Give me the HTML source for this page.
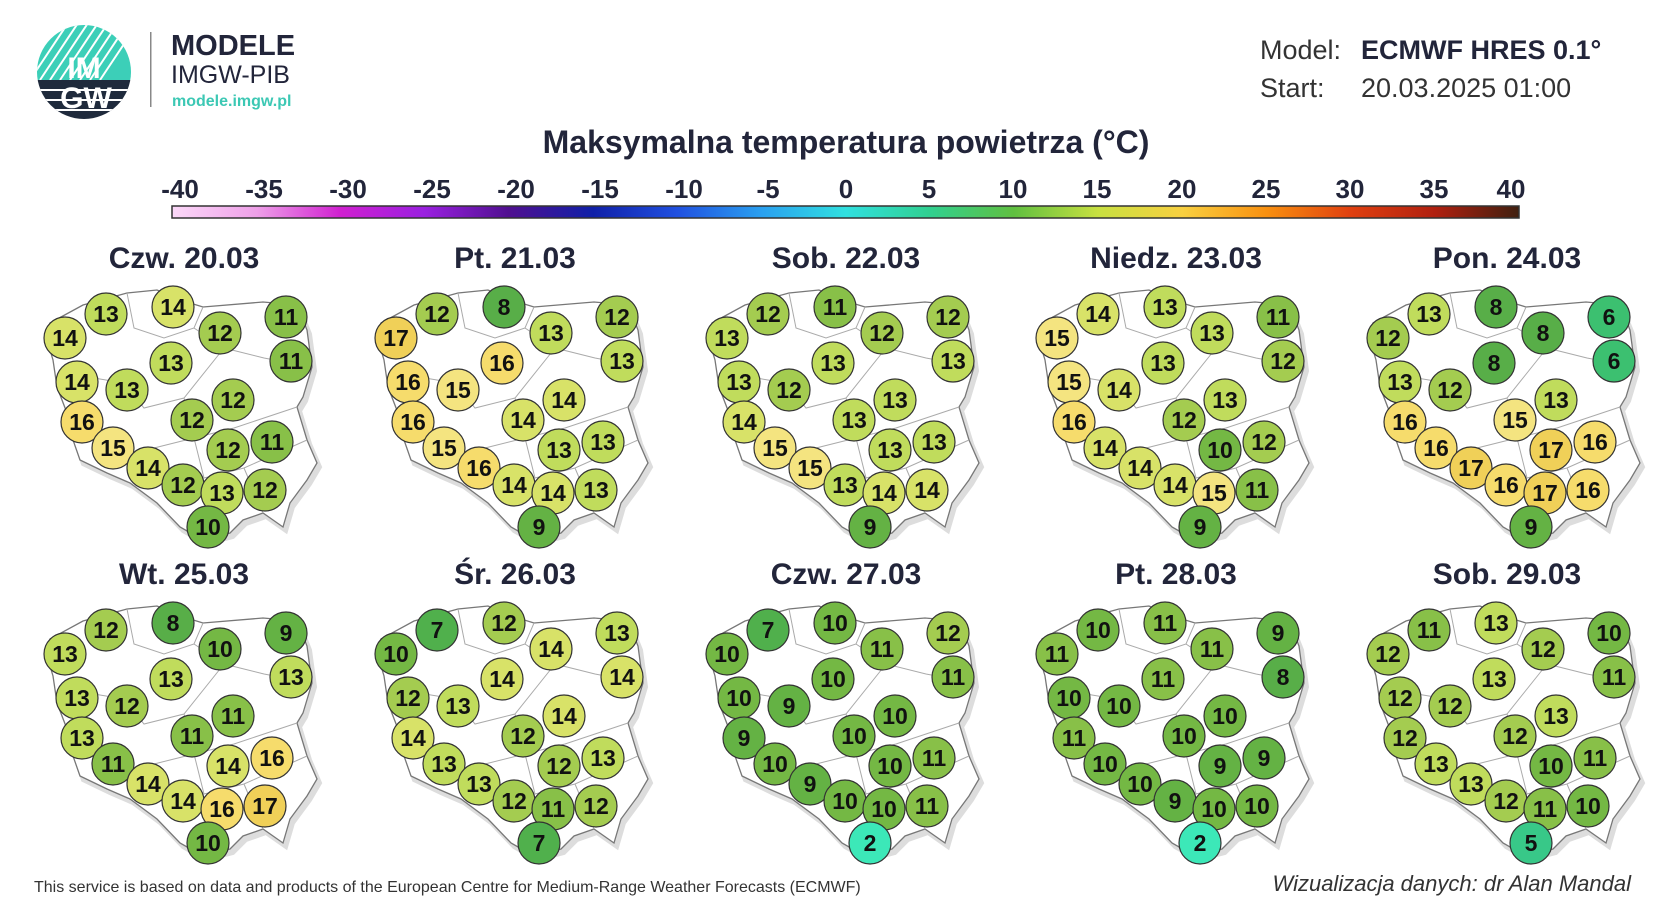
<!DOCTYPE html>
<html><head><meta charset="utf-8"><style>
html,body{margin:0;padding:0;background:#fff;}
svg{display:block;font-family:"Liberation Sans",sans-serif;}
.t{font-weight:bold;font-size:23px;text-anchor:middle;fill:#111;}
circle{stroke:#333;stroke-width:1.2;}
.v2{fill:#3ce8b8}.v5{fill:#38c888}.v6{fill:#3cc070}.v7{fill:#50b04c}.v8{fill:#58ae48}.v9{fill:#64b244}
.v10{fill:#74b844}.v11{fill:#88c048}.v12{fill:#a4cc50}.v13{fill:#c0dc5c}.v14{fill:#d8e268}.v15{fill:#f4e480}.v16{fill:#f6dc6c}.v17{fill:#f0d058}
.pt{font-weight:bold;font-size:30px;text-anchor:middle;fill:#22253a;}
.cb{font-weight:bold;font-size:26px;text-anchor:middle;fill:#22253a;}
</style></head><body>
<svg width="1680" height="900" viewBox="0 0 1680 900" xmlns="http://www.w3.org/2000/svg">
<defs>
<linearGradient id="cm" x1="0" x2="1" y1="0" y2="0">
<stop offset="0" stop-color="#fbd8f8"/><stop offset="0.0625" stop-color="#eea0e8"/><stop offset="0.125" stop-color="#d020d0"/>
<stop offset="0.1875" stop-color="#9a20e0"/><stop offset="0.25" stop-color="#501090"/><stop offset="0.3125" stop-color="#1020a8"/>
<stop offset="0.375" stop-color="#2050e0"/><stop offset="0.4375" stop-color="#2aa0f0"/><stop offset="0.5" stop-color="#30e0e0"/>
<stop offset="0.5625" stop-color="#30d090"/><stop offset="0.625" stop-color="#60c040"/><stop offset="0.6875" stop-color="#c8e040"/>
<stop offset="0.75" stop-color="#f8d040"/><stop offset="0.8125" stop-color="#f89010"/><stop offset="0.875" stop-color="#e04010"/>
<stop offset="0.9375" stop-color="#b02010"/><stop offset="1" stop-color="#402010"/>
</linearGradient>
<path id="pl" d="M-134,55 L-101,37 L-57,25 L-27,22 L6,35 L19,39 L79,34 L113,37 L123,62 L128,99 L119,129 L113,139 L123,172 L133,195 L123,212 L106,235 L99,259 L79,245 L59,252 L46,265 L19,272 L-4,259 L-27,235 L-54,215 L-77,205 L-104,192 L-111,172 L-117,145 L-127,119 L-131,92 L-137,72 Z"/>
<g id="map"><use href="#pl" transform="translate(3,4)" fill="#ddd" stroke="#ddd" stroke-width="4"/><use href="#pl" fill="#fff" stroke="#777" stroke-width="1.3"/>
<path d="M-57,25 L-50,60 L-20,70 L10,60 L19,39 M10,60 L40,80 L80,90 L128,99 M-127,119 L-90,110 L-60,115 L-40,140 L0,130 L40,80 M0,130 L10,170 L50,160 L113,139 M-111,172 L-80,170 L-60,190 L-30,180 L10,170 M-30,180 L-20,220 M10,170 L20,210 L60,200 L123,172 M60,200 L79,245" fill="none" stroke="#aaa" stroke-width="1"/></g>
</defs>
<rect width="1680" height="900" fill="#fff"/>
<!-- logo -->
<clipPath id="lc"><circle cx="84" cy="72" r="47"/></clipPath>
<g clip-path="url(#lc)">
<rect x="30" y="20" width="110" height="60" fill="#3ccfb8"/>
<g stroke="#fff" stroke-width="2"><path d="M50,80 L90,20 M60,80 L100,20 M70,80 L110,20 M80,80 L120,20 M90,80 L130,20 M100,80 L140,20 M40,80 L80,20 M30,80 L70,20"/></g>
<rect x="30" y="80" width="110" height="45" fill="#1f2a3c"/>
<g stroke="#fff" stroke-width="2"><path d="M30,90 H140 M30,100 H140 M30,110 H140"/></g>
</g>
<text x="84" y="78" font-size="30" font-weight="bold" fill="#fff" text-anchor="middle">IM</text>
<text x="86" y="108" font-size="30" font-weight="bold" fill="#fff" text-anchor="middle">GW</text>
<rect x="150" y="32" width="1.5" height="75" fill="#888"/>
<text x="171" y="55" font-size="29" font-weight="bold" fill="#22253a">MODELE</text>
<text x="171" y="83" font-size="25" fill="#22253a">IMGW-PIB</text>
<text x="172" y="106" font-size="16" font-weight="bold" fill="#3cc8b4">modele.imgw.pl</text>
<text x="1260" y="59" font-size="27" fill="#333">Model:</text>
<text x="1361" y="59" font-size="27" font-weight="bold" fill="#22253a">ECMWF HRES 0.1°</text>
<text x="1260" y="97" font-size="27" fill="#333">Start:</text>
<text x="1361" y="97" font-size="27" fill="#333">20.03.2025 01:00</text>
<text x="846" y="153" font-size="32" font-weight="bold" fill="#22253a" text-anchor="middle">Maksymalna temperatura powietrza (°C)</text>
<rect x="172" y="206" width="1347" height="12" fill="url(#cm)" stroke="#333" stroke-width="1.5"/>
<g class="cb">
<text x="180" y="198">-40</text><text x="264" y="198">-35</text><text x="348" y="198">-30</text><text x="432" y="198">-25</text><text x="516" y="198">-20</text><text x="600" y="198">-15</text><text x="684" y="198">-10</text><text x="768" y="198">-5</text><text x="846" y="198">0</text><text x="929" y="198">5</text><text x="1013" y="198">10</text><text x="1097" y="198">15</text><text x="1182" y="198">20</text><text x="1266" y="198">25</text><text x="1350" y="198">30</text><text x="1434" y="198">35</text><text x="1511" y="198">40</text>
</g>

<!-- Row 1 -->
<g transform="translate(184,268)"><use href="#map"/><text class="pt" x="0" y="0">Czw. 20.03</text>
<circle class="v13" cx="-78" cy="46" r="21"/><text class="t" x="-78" y="54">13</text>
<circle class="v14" cx="-11" cy="39" r="21"/><text class="t" x="-11" y="47">14</text>
<circle class="v12" cx="36" cy="65" r="21"/><text class="t" x="36" y="73">12</text>
<circle class="v11" cx="102" cy="49" r="21"/><text class="t" x="102" y="57">11</text>
<circle class="v14" cx="-119" cy="70" r="21"/><text class="t" x="-119" y="78">14</text>
<circle class="v11" cx="107" cy="93" r="21"/><text class="t" x="107" y="101">11</text>
<circle class="v13" cx="-13" cy="95" r="21"/><text class="t" x="-13" y="103">13</text>
<circle class="v14" cx="-107" cy="114" r="21"/><text class="t" x="-107" y="122">14</text>
<circle class="v13" cx="-57" cy="122" r="21"/><text class="t" x="-57" y="130">13</text>
<circle class="v12" cx="49" cy="132" r="21"/><text class="t" x="49" y="140">12</text>
<circle class="v16" cx="-102" cy="154" r="21"/><text class="t" x="-102" y="162">16</text>
<circle class="v12" cx="8" cy="152" r="21"/><text class="t" x="8" y="160">12</text>
<circle class="v15" cx="-71" cy="180" r="21"/><text class="t" x="-71" y="188">15</text>
<circle class="v12" cx="44" cy="182" r="21"/><text class="t" x="44" y="190">12</text>
<circle class="v11" cx="88" cy="174" r="21"/><text class="t" x="88" y="182">11</text>
<circle class="v14" cx="-36" cy="200" r="21"/><text class="t" x="-36" y="208">14</text>
<circle class="v12" cx="-1" cy="217" r="21"/><text class="t" x="-1" y="225">12</text>
<circle class="v13" cx="38" cy="225" r="21"/><text class="t" x="38" y="233">13</text>
<circle class="v12" cx="81" cy="222" r="21"/><text class="t" x="81" y="230">12</text>
<circle class="v10" cx="24" cy="259" r="21"/><text class="t" x="24" y="267">10</text>
</g>
<g transform="translate(515,268)"><use href="#map"/><text class="pt" x="0" y="0">Pt. 21.03</text>
<circle class="v12" cx="-78" cy="46" r="21"/><text class="t" x="-78" y="54">12</text>
<circle class="v8" cx="-11" cy="39" r="21"/><text class="t" x="-11" y="47">8</text>
<circle class="v13" cx="36" cy="65" r="21"/><text class="t" x="36" y="73">13</text>
<circle class="v12" cx="102" cy="49" r="21"/><text class="t" x="102" y="57">12</text>
<circle class="v17" cx="-119" cy="70" r="21"/><text class="t" x="-119" y="78">17</text>
<circle class="v13" cx="107" cy="93" r="21"/><text class="t" x="107" y="101">13</text>
<circle class="v16" cx="-13" cy="95" r="21"/><text class="t" x="-13" y="103">16</text>
<circle class="v16" cx="-107" cy="114" r="21"/><text class="t" x="-107" y="122">16</text>
<circle class="v15" cx="-57" cy="122" r="21"/><text class="t" x="-57" y="130">15</text>
<circle class="v14" cx="49" cy="132" r="21"/><text class="t" x="49" y="140">14</text>
<circle class="v16" cx="-102" cy="154" r="21"/><text class="t" x="-102" y="162">16</text>
<circle class="v14" cx="8" cy="152" r="21"/><text class="t" x="8" y="160">14</text>
<circle class="v15" cx="-71" cy="180" r="21"/><text class="t" x="-71" y="188">15</text>
<circle class="v13" cx="44" cy="182" r="21"/><text class="t" x="44" y="190">13</text>
<circle class="v13" cx="88" cy="174" r="21"/><text class="t" x="88" y="182">13</text>
<circle class="v16" cx="-36" cy="200" r="21"/><text class="t" x="-36" y="208">16</text>
<circle class="v14" cx="-1" cy="217" r="21"/><text class="t" x="-1" y="225">14</text>
<circle class="v14" cx="38" cy="225" r="21"/><text class="t" x="38" y="233">14</text>
<circle class="v13" cx="81" cy="222" r="21"/><text class="t" x="81" y="230">13</text>
<circle class="v9" cx="24" cy="259" r="21"/><text class="t" x="24" y="267">9</text>
</g>
<g transform="translate(846,268)"><use href="#map"/><text class="pt" x="0" y="0">Sob. 22.03</text>
<circle class="v12" cx="-78" cy="46" r="21"/><text class="t" x="-78" y="54">12</text>
<circle class="v11" cx="-11" cy="39" r="21"/><text class="t" x="-11" y="47">11</text>
<circle class="v12" cx="36" cy="65" r="21"/><text class="t" x="36" y="73">12</text>
<circle class="v12" cx="102" cy="49" r="21"/><text class="t" x="102" y="57">12</text>
<circle class="v13" cx="-119" cy="70" r="21"/><text class="t" x="-119" y="78">13</text>
<circle class="v13" cx="107" cy="93" r="21"/><text class="t" x="107" y="101">13</text>
<circle class="v13" cx="-13" cy="95" r="21"/><text class="t" x="-13" y="103">13</text>
<circle class="v13" cx="-107" cy="114" r="21"/><text class="t" x="-107" y="122">13</text>
<circle class="v12" cx="-57" cy="122" r="21"/><text class="t" x="-57" y="130">12</text>
<circle class="v13" cx="49" cy="132" r="21"/><text class="t" x="49" y="140">13</text>
<circle class="v14" cx="-102" cy="154" r="21"/><text class="t" x="-102" y="162">14</text>
<circle class="v13" cx="8" cy="152" r="21"/><text class="t" x="8" y="160">13</text>
<circle class="v15" cx="-71" cy="180" r="21"/><text class="t" x="-71" y="188">15</text>
<circle class="v13" cx="44" cy="182" r="21"/><text class="t" x="44" y="190">13</text>
<circle class="v13" cx="88" cy="174" r="21"/><text class="t" x="88" y="182">13</text>
<circle class="v15" cx="-36" cy="200" r="21"/><text class="t" x="-36" y="208">15</text>
<circle class="v13" cx="-1" cy="217" r="21"/><text class="t" x="-1" y="225">13</text>
<circle class="v14" cx="38" cy="225" r="21"/><text class="t" x="38" y="233">14</text>
<circle class="v14" cx="81" cy="222" r="21"/><text class="t" x="81" y="230">14</text>
<circle class="v9" cx="24" cy="259" r="21"/><text class="t" x="24" y="267">9</text>
</g>
<g transform="translate(1176,268)"><use href="#map"/><text class="pt" x="0" y="0">Niedz. 23.03</text>
<circle class="v14" cx="-78" cy="46" r="21"/><text class="t" x="-78" y="54">14</text>
<circle class="v13" cx="-11" cy="39" r="21"/><text class="t" x="-11" y="47">13</text>
<circle class="v13" cx="36" cy="65" r="21"/><text class="t" x="36" y="73">13</text>
<circle class="v11" cx="102" cy="49" r="21"/><text class="t" x="102" y="57">11</text>
<circle class="v15" cx="-119" cy="70" r="21"/><text class="t" x="-119" y="78">15</text>
<circle class="v12" cx="107" cy="93" r="21"/><text class="t" x="107" y="101">12</text>
<circle class="v13" cx="-13" cy="95" r="21"/><text class="t" x="-13" y="103">13</text>
<circle class="v15" cx="-107" cy="114" r="21"/><text class="t" x="-107" y="122">15</text>
<circle class="v14" cx="-57" cy="122" r="21"/><text class="t" x="-57" y="130">14</text>
<circle class="v13" cx="49" cy="132" r="21"/><text class="t" x="49" y="140">13</text>
<circle class="v16" cx="-102" cy="154" r="21"/><text class="t" x="-102" y="162">16</text>
<circle class="v12" cx="8" cy="152" r="21"/><text class="t" x="8" y="160">12</text>
<circle class="v14" cx="-71" cy="180" r="21"/><text class="t" x="-71" y="188">14</text>
<circle class="v10" cx="44" cy="182" r="21"/><text class="t" x="44" y="190">10</text>
<circle class="v12" cx="88" cy="174" r="21"/><text class="t" x="88" y="182">12</text>
<circle class="v14" cx="-36" cy="200" r="21"/><text class="t" x="-36" y="208">14</text>
<circle class="v14" cx="-1" cy="217" r="21"/><text class="t" x="-1" y="225">14</text>
<circle class="v15" cx="38" cy="225" r="21"/><text class="t" x="38" y="233">15</text>
<circle class="v11" cx="81" cy="222" r="21"/><text class="t" x="81" y="230">11</text>
<circle class="v9" cx="24" cy="259" r="21"/><text class="t" x="24" y="267">9</text>
</g>
<g transform="translate(1507,268)"><use href="#map"/><text class="pt" x="0" y="0">Pon. 24.03</text>
<circle class="v13" cx="-78" cy="46" r="21"/><text class="t" x="-78" y="54">13</text>
<circle class="v8" cx="-11" cy="39" r="21"/><text class="t" x="-11" y="47">8</text>
<circle class="v8" cx="36" cy="65" r="21"/><text class="t" x="36" y="73">8</text>
<circle class="v6" cx="102" cy="49" r="21"/><text class="t" x="102" y="57">6</text>
<circle class="v12" cx="-119" cy="70" r="21"/><text class="t" x="-119" y="78">12</text>
<circle class="v6" cx="107" cy="93" r="21"/><text class="t" x="107" y="101">6</text>
<circle class="v8" cx="-13" cy="95" r="21"/><text class="t" x="-13" y="103">8</text>
<circle class="v13" cx="-107" cy="114" r="21"/><text class="t" x="-107" y="122">13</text>
<circle class="v12" cx="-57" cy="122" r="21"/><text class="t" x="-57" y="130">12</text>
<circle class="v13" cx="49" cy="132" r="21"/><text class="t" x="49" y="140">13</text>
<circle class="v16" cx="-102" cy="154" r="21"/><text class="t" x="-102" y="162">16</text>
<circle class="v15" cx="8" cy="152" r="21"/><text class="t" x="8" y="160">15</text>
<circle class="v16" cx="-71" cy="180" r="21"/><text class="t" x="-71" y="188">16</text>
<circle class="v17" cx="44" cy="182" r="21"/><text class="t" x="44" y="190">17</text>
<circle class="v16" cx="88" cy="174" r="21"/><text class="t" x="88" y="182">16</text>
<circle class="v17" cx="-36" cy="200" r="21"/><text class="t" x="-36" y="208">17</text>
<circle class="v16" cx="-1" cy="217" r="21"/><text class="t" x="-1" y="225">16</text>
<circle class="v17" cx="38" cy="225" r="21"/><text class="t" x="38" y="233">17</text>
<circle class="v16" cx="81" cy="222" r="21"/><text class="t" x="81" y="230">16</text>
<circle class="v9" cx="24" cy="259" r="21"/><text class="t" x="24" y="267">9</text>
</g>

<!-- Row 2 -->
<g transform="translate(184,584)"><use href="#map"/><text class="pt" x="0" y="0">Wt. 25.03</text>
<circle class="v12" cx="-78" cy="46" r="21"/><text class="t" x="-78" y="54">12</text>
<circle class="v8" cx="-11" cy="39" r="21"/><text class="t" x="-11" y="47">8</text>
<circle class="v10" cx="36" cy="65" r="21"/><text class="t" x="36" y="73">10</text>
<circle class="v9" cx="102" cy="49" r="21"/><text class="t" x="102" y="57">9</text>
<circle class="v13" cx="-119" cy="70" r="21"/><text class="t" x="-119" y="78">13</text>
<circle class="v13" cx="107" cy="93" r="21"/><text class="t" x="107" y="101">13</text>
<circle class="v13" cx="-13" cy="95" r="21"/><text class="t" x="-13" y="103">13</text>
<circle class="v13" cx="-107" cy="114" r="21"/><text class="t" x="-107" y="122">13</text>
<circle class="v12" cx="-57" cy="122" r="21"/><text class="t" x="-57" y="130">12</text>
<circle class="v11" cx="49" cy="132" r="21"/><text class="t" x="49" y="140">11</text>
<circle class="v13" cx="-102" cy="154" r="21"/><text class="t" x="-102" y="162">13</text>
<circle class="v11" cx="8" cy="152" r="21"/><text class="t" x="8" y="160">11</text>
<circle class="v11" cx="-71" cy="180" r="21"/><text class="t" x="-71" y="188">11</text>
<circle class="v14" cx="44" cy="182" r="21"/><text class="t" x="44" y="190">14</text>
<circle class="v16" cx="88" cy="174" r="21"/><text class="t" x="88" y="182">16</text>
<circle class="v14" cx="-36" cy="200" r="21"/><text class="t" x="-36" y="208">14</text>
<circle class="v14" cx="-1" cy="217" r="21"/><text class="t" x="-1" y="225">14</text>
<circle class="v16" cx="38" cy="225" r="21"/><text class="t" x="38" y="233">16</text>
<circle class="v17" cx="81" cy="222" r="21"/><text class="t" x="81" y="230">17</text>
<circle class="v10" cx="24" cy="259" r="21"/><text class="t" x="24" y="267">10</text>
</g>
<g transform="translate(515,584)"><use href="#map"/><text class="pt" x="0" y="0">Śr. 26.03</text>
<circle class="v7" cx="-78" cy="46" r="21"/><text class="t" x="-78" y="54">7</text>
<circle class="v12" cx="-11" cy="39" r="21"/><text class="t" x="-11" y="47">12</text>
<circle class="v14" cx="36" cy="65" r="21"/><text class="t" x="36" y="73">14</text>
<circle class="v13" cx="102" cy="49" r="21"/><text class="t" x="102" y="57">13</text>
<circle class="v10" cx="-119" cy="70" r="21"/><text class="t" x="-119" y="78">10</text>
<circle class="v14" cx="107" cy="93" r="21"/><text class="t" x="107" y="101">14</text>
<circle class="v14" cx="-13" cy="95" r="21"/><text class="t" x="-13" y="103">14</text>
<circle class="v12" cx="-107" cy="114" r="21"/><text class="t" x="-107" y="122">12</text>
<circle class="v13" cx="-57" cy="122" r="21"/><text class="t" x="-57" y="130">13</text>
<circle class="v14" cx="49" cy="132" r="21"/><text class="t" x="49" y="140">14</text>
<circle class="v14" cx="-102" cy="154" r="21"/><text class="t" x="-102" y="162">14</text>
<circle class="v12" cx="8" cy="152" r="21"/><text class="t" x="8" y="160">12</text>
<circle class="v13" cx="-71" cy="180" r="21"/><text class="t" x="-71" y="188">13</text>
<circle class="v12" cx="44" cy="182" r="21"/><text class="t" x="44" y="190">12</text>
<circle class="v13" cx="88" cy="174" r="21"/><text class="t" x="88" y="182">13</text>
<circle class="v13" cx="-36" cy="200" r="21"/><text class="t" x="-36" y="208">13</text>
<circle class="v12" cx="-1" cy="217" r="21"/><text class="t" x="-1" y="225">12</text>
<circle class="v11" cx="38" cy="225" r="21"/><text class="t" x="38" y="233">11</text>
<circle class="v12" cx="81" cy="222" r="21"/><text class="t" x="81" y="230">12</text>
<circle class="v7" cx="24" cy="259" r="21"/><text class="t" x="24" y="267">7</text>
</g>
<g transform="translate(846,584)"><use href="#map"/><text class="pt" x="0" y="0">Czw. 27.03</text>
<circle class="v7" cx="-78" cy="46" r="21"/><text class="t" x="-78" y="54">7</text>
<circle class="v10" cx="-11" cy="39" r="21"/><text class="t" x="-11" y="47">10</text>
<circle class="v11" cx="36" cy="65" r="21"/><text class="t" x="36" y="73">11</text>
<circle class="v12" cx="102" cy="49" r="21"/><text class="t" x="102" y="57">12</text>
<circle class="v10" cx="-119" cy="70" r="21"/><text class="t" x="-119" y="78">10</text>
<circle class="v11" cx="107" cy="93" r="21"/><text class="t" x="107" y="101">11</text>
<circle class="v10" cx="-13" cy="95" r="21"/><text class="t" x="-13" y="103">10</text>
<circle class="v10" cx="-107" cy="114" r="21"/><text class="t" x="-107" y="122">10</text>
<circle class="v9" cx="-57" cy="122" r="21"/><text class="t" x="-57" y="130">9</text>
<circle class="v10" cx="49" cy="132" r="21"/><text class="t" x="49" y="140">10</text>
<circle class="v9" cx="-102" cy="154" r="21"/><text class="t" x="-102" y="162">9</text>
<circle class="v10" cx="8" cy="152" r="21"/><text class="t" x="8" y="160">10</text>
<circle class="v10" cx="-71" cy="180" r="21"/><text class="t" x="-71" y="188">10</text>
<circle class="v10" cx="44" cy="182" r="21"/><text class="t" x="44" y="190">10</text>
<circle class="v11" cx="88" cy="174" r="21"/><text class="t" x="88" y="182">11</text>
<circle class="v9" cx="-36" cy="200" r="21"/><text class="t" x="-36" y="208">9</text>
<circle class="v10" cx="-1" cy="217" r="21"/><text class="t" x="-1" y="225">10</text>
<circle class="v10" cx="38" cy="225" r="21"/><text class="t" x="38" y="233">10</text>
<circle class="v11" cx="81" cy="222" r="21"/><text class="t" x="81" y="230">11</text>
<circle class="v2" cx="24" cy="259" r="21"/><text class="t" x="24" y="267">2</text>
</g>
<g transform="translate(1176,584)"><use href="#map"/><text class="pt" x="0" y="0">Pt. 28.03</text>
<circle class="v10" cx="-78" cy="46" r="21"/><text class="t" x="-78" y="54">10</text>
<circle class="v11" cx="-11" cy="39" r="21"/><text class="t" x="-11" y="47">11</text>
<circle class="v11" cx="36" cy="65" r="21"/><text class="t" x="36" y="73">11</text>
<circle class="v9" cx="102" cy="49" r="21"/><text class="t" x="102" y="57">9</text>
<circle class="v11" cx="-119" cy="70" r="21"/><text class="t" x="-119" y="78">11</text>
<circle class="v8" cx="107" cy="93" r="21"/><text class="t" x="107" y="101">8</text>
<circle class="v11" cx="-13" cy="95" r="21"/><text class="t" x="-13" y="103">11</text>
<circle class="v10" cx="-107" cy="114" r="21"/><text class="t" x="-107" y="122">10</text>
<circle class="v10" cx="-57" cy="122" r="21"/><text class="t" x="-57" y="130">10</text>
<circle class="v10" cx="49" cy="132" r="21"/><text class="t" x="49" y="140">10</text>
<circle class="v11" cx="-102" cy="154" r="21"/><text class="t" x="-102" y="162">11</text>
<circle class="v10" cx="8" cy="152" r="21"/><text class="t" x="8" y="160">10</text>
<circle class="v10" cx="-71" cy="180" r="21"/><text class="t" x="-71" y="188">10</text>
<circle class="v9" cx="44" cy="182" r="21"/><text class="t" x="44" y="190">9</text>
<circle class="v9" cx="88" cy="174" r="21"/><text class="t" x="88" y="182">9</text>
<circle class="v10" cx="-36" cy="200" r="21"/><text class="t" x="-36" y="208">10</text>
<circle class="v9" cx="-1" cy="217" r="21"/><text class="t" x="-1" y="225">9</text>
<circle class="v10" cx="38" cy="225" r="21"/><text class="t" x="38" y="233">10</text>
<circle class="v10" cx="81" cy="222" r="21"/><text class="t" x="81" y="230">10</text>
<circle class="v2" cx="24" cy="259" r="21"/><text class="t" x="24" y="267">2</text>
</g>
<g transform="translate(1507,584)"><use href="#map"/><text class="pt" x="0" y="0">Sob. 29.03</text>
<circle class="v11" cx="-78" cy="46" r="21"/><text class="t" x="-78" y="54">11</text>
<circle class="v13" cx="-11" cy="39" r="21"/><text class="t" x="-11" y="47">13</text>
<circle class="v12" cx="36" cy="65" r="21"/><text class="t" x="36" y="73">12</text>
<circle class="v10" cx="102" cy="49" r="21"/><text class="t" x="102" y="57">10</text>
<circle class="v12" cx="-119" cy="70" r="21"/><text class="t" x="-119" y="78">12</text>
<circle class="v11" cx="107" cy="93" r="21"/><text class="t" x="107" y="101">11</text>
<circle class="v13" cx="-13" cy="95" r="21"/><text class="t" x="-13" y="103">13</text>
<circle class="v12" cx="-107" cy="114" r="21"/><text class="t" x="-107" y="122">12</text>
<circle class="v12" cx="-57" cy="122" r="21"/><text class="t" x="-57" y="130">12</text>
<circle class="v13" cx="49" cy="132" r="21"/><text class="t" x="49" y="140">13</text>
<circle class="v12" cx="-102" cy="154" r="21"/><text class="t" x="-102" y="162">12</text>
<circle class="v12" cx="8" cy="152" r="21"/><text class="t" x="8" y="160">12</text>
<circle class="v13" cx="-71" cy="180" r="21"/><text class="t" x="-71" y="188">13</text>
<circle class="v10" cx="44" cy="182" r="21"/><text class="t" x="44" y="190">10</text>
<circle class="v11" cx="88" cy="174" r="21"/><text class="t" x="88" y="182">11</text>
<circle class="v13" cx="-36" cy="200" r="21"/><text class="t" x="-36" y="208">13</text>
<circle class="v12" cx="-1" cy="217" r="21"/><text class="t" x="-1" y="225">12</text>
<circle class="v11" cx="38" cy="225" r="21"/><text class="t" x="38" y="233">11</text>
<circle class="v10" cx="81" cy="222" r="21"/><text class="t" x="81" y="230">10</text>
<circle class="v5" cx="24" cy="259" r="21"/><text class="t" x="24" y="267">5</text>
</g>

<text x="34" y="892" font-size="16" fill="#333">This service is based on data and products of the European Centre for Medium-Range Weather Forecasts (ECMWF)</text>
<text x="1631" y="891" font-size="22" font-style="italic" fill="#333" text-anchor="end">Wizualizacja danych: dr Alan Mandal</text>
</svg>
</body></html>
